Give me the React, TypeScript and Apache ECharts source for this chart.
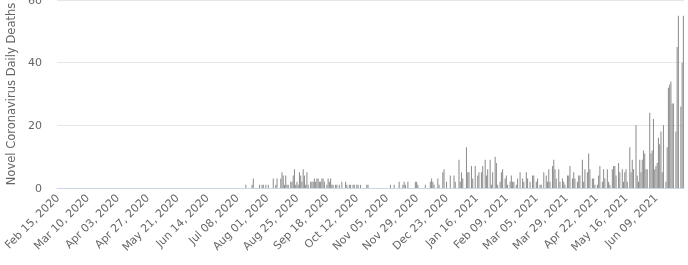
import React, { useEffect, useRef } from "react";
import * as echarts from "echarts";

const MONTHS = ["Jan", "Feb", "Mar", "Apr", "May", "Jun", "Jul", "Aug", "Sep", "Oct", "Nov", "Dec"];
const START = { year: 2020, month: 1, day: 15 };
const DAY_COUNT = 503;

// Feb 15 2020 – Jul 13 2020
const deathsEarly = [
  0, 0, 0, 0, 0, 0, 0, 0, 0, 0, 0, 0, 0, 0, 0, 0, 0, 0, 0, 0,
  0, 0, 0, 0, 0, 0, 0, 0, 0, 0, 0, 0, 0, 0, 0, 0, 0, 0, 0, 0,
  0, 0, 0, 0, 0, 0, 0, 0, 0, 0, 0, 0, 0, 0, 0, 0, 0, 0, 0, 0,
  0, 0, 0, 0, 0, 0, 0, 0, 0, 0, 0, 0, 0, 0, 0, 0, 0, 0, 0, 0,
  0, 0, 0, 0, 0, 0, 0, 0, 0, 0, 0, 0, 0, 0, 0, 0, 0, 0, 0, 0,
  0, 0, 0, 0, 0, 0, 0, 0, 0, 0, 0, 0, 0, 0, 0, 0, 0, 0, 0, 0,
  0, 0, 0, 0, 0, 0, 0, 0, 0, 0, 0, 0, 0, 0, 0, 0, 0, 0, 0, 0,
  0, 0, 0, 0, 0, 0, 0, 0, 0, 0,
];
// Jul 14 2020 – Oct 21 2020
const deathsSummer = [
  0, 1, 0, 0, 0, 0, 1, 3, 0, 0,
  0, 0, 1, 0, 1, 1, 0, 1, 0, 1,
  0, 0, 0, 3, 0, 1, 3, 0, 0, 3,
  5, 4, 1, 4, 1, 1, 0, 2, 2, 4,
  6, 1, 2, 1, 5, 4, 2, 6, 4, 1,
  5, 1, 0, 2, 2, 2, 3, 2, 3, 3,
  2, 2, 3, 3, 2, 0, 1, 3, 2, 3,
  1, 1, 0, 1, 1, 0, 1, 0, 2, 0,
  0, 2, 1, 0, 1, 1, 0, 1, 1, 0,
  1, 1, 0, 1, 0, 0, 0, 0, 1, 1,
];
// Oct 22 2020 – Jan 29 2021
const deathsWinter = [
  0, 0, 0, 0, 0, 0, 0, 0, 0, 0,
  0, 0, 0, 0, 0, 0, 0, 1, 0, 0,
  1, 0, 0, 0, 2, 0, 0, 1, 2, 1,
  0, 2, 0, 0, 0, 0, 0, 2, 2, 1,
  0, 0, 0, 0, 0, 1, 0, 0, 0, 2,
  3, 2, 1, 0, 0, 3, 1, 0, 0, 5,
  6, 0, 2, 0, 0, 4, 0, 0, 4, 2,
  0, 0, 9, 2, 5, 3, 0, 0, 13, 5,
  5, 0, 7, 3, 0, 7, 0, 4, 5, 0,
  5, 7, 0, 9, 4, 6, 0, 9, 1, 5,
];
// Jan 30 2021 – May 09 2021
const deathsSpring = [
  0, 10, 8, 1, 0, 2, 5, 6, 0, 3,
  4, 1, 0, 2, 4, 2, 2, 0, 1, 3,
  0, 5, 0, 3, 2, 0, 5, 3, 0, 2,
  0, 4, 4, 0, 2, 3, 0, 1, 1, 0,
  5, 0, 4, 2, 6, 2, 0, 7, 9, 6,
  3, 0, 6, 2, 0, 3, 2, 1, 0, 4,
  4, 7, 0, 3, 5, 3, 0, 2, 4, 4,
  0, 9, 2, 6, 0, 5, 11, 6, 0, 3,
  3, 1, 0, 1, 4, 7, 0, 2, 6, 3,
  0, 6, 2, 1, 0, 6, 7, 7, 4, 0,
];
// May 10 2021 – Jul 01 2021
const deathsLate = [
  8, 5, 0, 6, 2, 5, 6, 2, 0, 13,
  5, 9, 6, 0, 20, 4, 2, 9, 5, 9,
  12, 11, 6, 6, 0, 24, 11, 12, 22, 6,
  7, 8, 16, 14, 18, 5, 20, 0, 2, 13,
  32, 33, 34, 27, 27, 0, 18, 45, 55, 0,
  26, 40, 55,
];

const deaths = [...deathsEarly, ...deathsSummer, ...deathsWinter, ...deathsSpring, ...deathsLate];

const dates: string[] = [];
for (let i = 0; i < DAY_COUNT; i++) {
  const d = new Date(Date.UTC(START.year, START.month, START.day + i));
  dates.push(`${MONTHS[d.getUTCMonth()]} ${String(d.getUTCDate()).padStart(2, "0")}, ${d.getUTCFullYear()}`);
}

const FONT = '"DejaVu Sans", sans-serif';

export default function App() {
  const ref = useRef<HTMLDivElement>(null);
  useEffect(() => {
    if (!ref.current) return;
    const chart = echarts.init(ref.current, undefined, { renderer: "svg" });
    chart.setOption({
      animation: false,
      grid: { left: 57, right: 4, top: 0, bottom: 77, containLabel: false, outerBoundsMode: "none" },
      xAxis: {
        type: "category",
        data: dates,
        axisLine: { lineStyle: { color: "#ccd6eb", width: 1 } },
        axisTick: { show: false },
        axisLabel: {
          rotate: 45,
          interval: 23,
          color: "#666666",
          fontSize: 11,
          fontFamily: FONT,
          margin: 8,
        },
      },
      yAxis: {
        type: "value",
        min: 0,
        max: 60,
        interval: 20,
        name: "Novel Coronavirus Daily Deaths",
        nameLocation: "middle",
        nameGap: 40,
        nameTextStyle: { color: "#666666", fontSize: 11.5, fontFamily: FONT },
        axisLine: { show: false },
        axisTick: { show: false },
        splitLine: { lineStyle: { color: "#e6e6e6", width: 1 } },
        axisLabel: { color: "#666666", fontSize: 11, fontFamily: FONT, margin: 15 },
      },
      series: [
        {
          type: "bar",
          data: deaths,
          itemStyle: { color: "#909090" },
          barCategoryGap: "15%",
        },
      ],
    });
    return () => chart.dispose();
  }, []);
  return <div ref={ref} style={{ position: "fixed", left: 0, top: 0, width: 688, height: 265 }} />;
}
